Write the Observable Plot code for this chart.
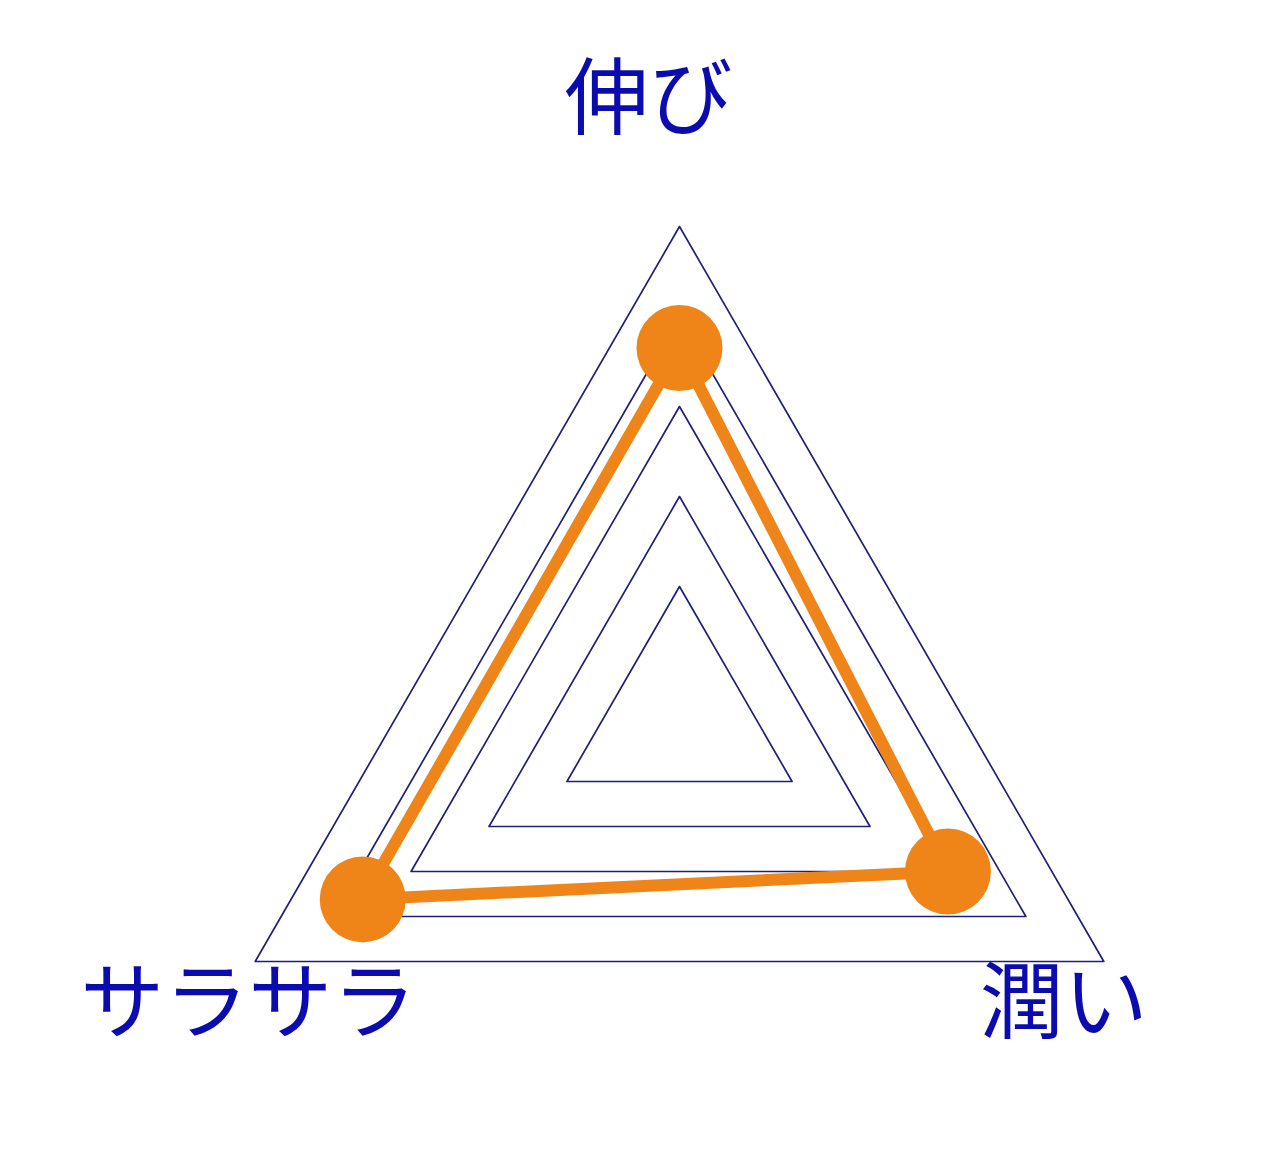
<!DOCTYPE html>
<html>
<head>
<meta charset="utf-8">
<script src="https://cdn.jsdelivr.net/npm/d3@7"></script>
<script src="https://cdn.jsdelivr.net/npm/@observablehq/plot@0.6"></script>
<style>
  html, body { margin: 0; padding: 0; background: #fff; }
  #chart svg { display: block; }
</style>
</head>
<body>
<div id="chart"></div>
<script>
// ---- data ----
const axes = ["伸び", "潤い", "サラサラ"];
const values = [3.65, 3.0, 3.62];
const ringLevels = [1, 2, 3, 4, 5];

// ---- layout ----
const W = 1280, H = 1149;
const unit = 90;            // px per value unit
const cx = 679, cy = 716;   // centre in px
const rOffset = 0.444;      // inner offset of the radial scale
const angleOf = i => (90 - i * 120) * Math.PI / 180;
const rad = v => v + rOffset;
const px = (v, i) => rad(v) * Math.cos(angleOf(i));
const py = (v, i) => rad(v) * Math.sin(angleOf(i));

const rings = [];
for (const lv of ringLevels) {
  for (let k = 0; k <= axes.length; k++) {
    const i = k % axes.length;
    rings.push({level: lv, x: px(lv, i), y: py(lv, i)});
  }
}
const pts = axes.map((a, i) => ({axis: a, x: px(values[i], i), y: py(values[i], i)}));
const poly = [...pts, pts[0]];

const outer = ringLevels[ringLevels.length - 1];
const labels = axes.map((a, i) => ({label: a, x: px(outer, i), y: py(outer, i)}));
const labelOffsets = [[-31, -125], [-40, 44], [-7, 44]];

const orange = "#ef8519";
const navy = "#1f1f78";
const blue = "#0b0bb0";
const font = "'Noto Sans CJK JP', 'Noto Sans', sans-serif";

const marks = [
  Plot.line(rings, {x: "x", y: "y", z: "level", stroke: navy, strokeWidth: 1.7, curve: "linear"}),
  Plot.line(poly, {x: "x", y: "y", stroke: orange, strokeWidth: 12, strokeLinejoin: "round"}),
  Plot.dot(pts, {x: "x", y: "y", r: 43, fill: orange, stroke: "none"})
];
labels.forEach((d, i) => {
  marks.push(Plot.text([d], {
    x: "x", y: "y", text: "label",
    dx: labelOffsets[i][0], dy: labelOffsets[i][1],
    fontSize: 84, fill: blue, fontFamily: font, textAnchor: "middle", lineAnchor: "middle"
  }));
});

const chart = Plot.plot({
  width: W, height: H, margin: 0,
  x: {domain: [-cx / unit, (W - cx) / unit], axis: null},
  y: {domain: [-(H - cy) / unit, cy / unit], axis: null},
  style: {background: "#fff", fontFamily: font},
  marks
});
document.getElementById("chart").appendChild(chart);
</script>
</body>
</html>
